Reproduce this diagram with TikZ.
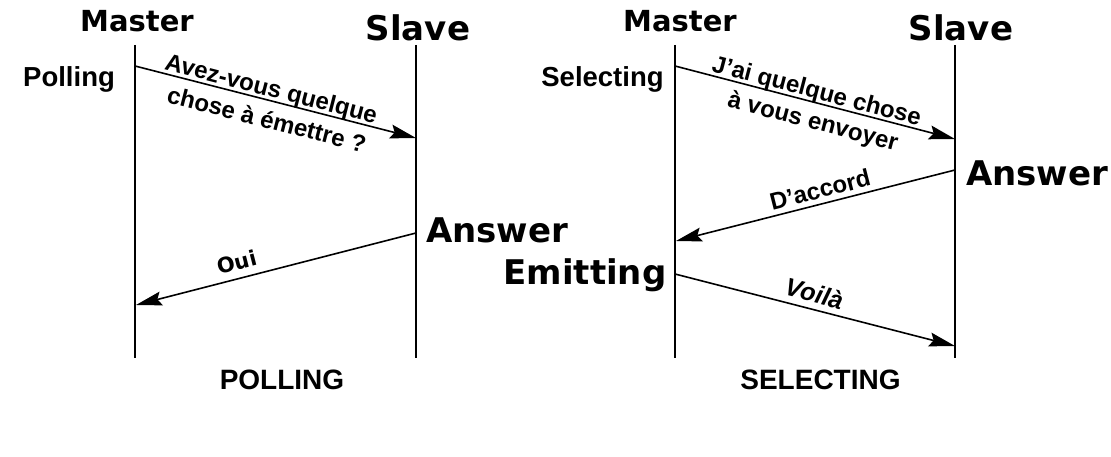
\documentclass[tikz,border=0pt]{standalone}
\usepackage{fontspec}
\setmainfont{Liberation Sans}
\newfontfamily\dv{DejaVu Sans}
\usetikzlibrary{arrows.meta}
\begin{document}
\begin{tikzpicture}[x=1pt,y=-1pt,
  life/.style={line width=1.6pt},
  msg/.style={line width=1.6pt,-{Stealth[length=26pt,width=14pt,inset=4pt]}},
  hdr/.style={font=\dv\bfseries\fontsize{29}{30}\selectfont,anchor=base,inner sep=0pt},
  big/.style={font=\dv\bfseries\fontsize{34}{36}\selectfont,anchor=base,inner sep=0pt},
  lbl/.style={font=\bfseries\fontsize{27.5}{29}\selectfont,anchor=base,inner sep=0pt},
  captxt/.style={font=\bfseries\fontsize{28}{30}\selectfont,anchor=base,inner sep=0pt},
  ml/.style={font=\bfseries\fontsize{24}{26}\selectfont,sloped,inner xsep=0pt,text depth=0pt}]
\useasboundingbox (0,0) rectangle (1111,457);
% lifelines
\coordinate (m1t) at (135,45); \coordinate (m1b) at (135,358);
\coordinate (s1t) at (416,45); \coordinate (s1b) at (416,358);
\coordinate (m2t) at (675,45); \coordinate (m2b) at (675,358);
\coordinate (s2t) at (955,45); \coordinate (s2b) at (955,358);
\draw[life] (m1t) -- (m1b);
\draw[life] (s1t) -- (s1b);
\draw[life] (m2t) -- (m2b);
\draw[life] (s2t) -- (s2b);
% headers
\node[hdr] (hm1) at (137,32) {Master};
\node[big] (hs1) at (418,41) {Slave};
\node[hdr] (hm2) at (680,32) {Master};
\node[big] (hs2) at (961,41) {Slave};
\node[lbl] (pol) at (69,87) {Polling};
\node[lbl] (sel) at (602.5,87) {Selecting};
\node[big] (ans1) at (497,243) {Answer};
\node[big] (emi) at (585,284) {Emitting};
\node[big] (ans2) at (1037,186) {Answer};
\node[captxt] (cp) at (282,389) {POLLING};
\node[captxt] (cs) at (820.5,389) {SELECTING};
% message endpoints
\coordinate (a1s) at (135,66); \coordinate (a1e) at (416,138);
\coordinate (a2s) at (416,233); \coordinate (a2e) at (136,305);
\coordinate (a3s) at (675,66); \coordinate (a3e) at (955,139);
\coordinate (a4s) at (955,170); \coordinate (a4e) at (676,241);
\coordinate (a5s) at (675,274); \coordinate (a5e) at (955,346);
\draw[msg] (a1s) -- node[ml,above,pos=0.475,inner ysep=3pt] {Avez-vous quelque}
                    node[ml,below,pos=0.486,inner ysep=9pt] {chose à émettre ?} (a1e);
\draw[msg] (a2s) -- node[ml,above,pos=0.625,inner ysep=8pt,font=\dv\bfseries\fontsize{21}{23}\selectfont] {Oui} (a2e);
\draw[msg] (a3s) -- node[ml,above,pos=0.496,inner ysep=3pt] {J’ai quelque chose}
                    node[ml,below,pos=0.51,inner ysep=8pt] {à vous envoyer} (a3e);
\draw[msg] (a4s) -- node[ml,above,pos=0.471,inner ysep=5pt] {D’accord} (a4e);
\draw[msg] (a5s) -- node[ml,above,pos=0.484,inner ysep=6pt,font=\bfseries\itshape\fontsize{25}{27}\selectfont] {Voilà} (a5e);
\end{tikzpicture}
\end{document}
